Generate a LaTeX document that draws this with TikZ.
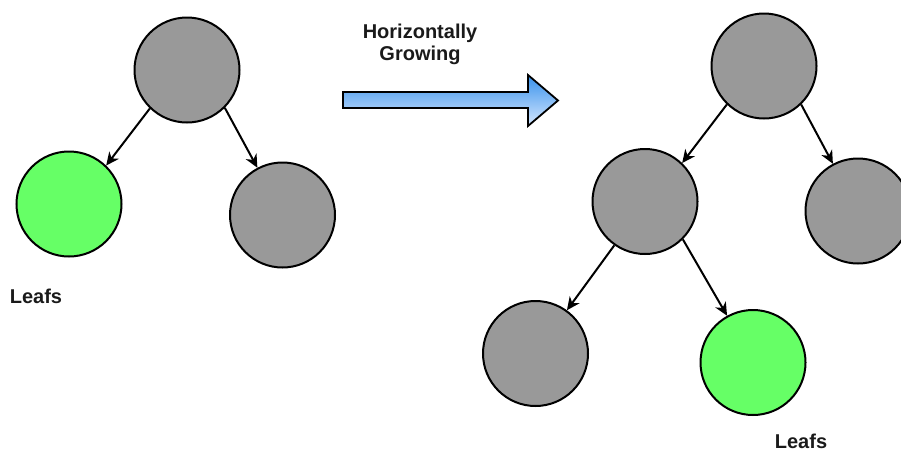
\documentclass[tikz,border=0pt]{standalone}
\usepackage{fontspec}
\setmainfont{Liberation Sans}
\usetikzlibrary{arrows.meta}
\definecolor{nodegray}{HTML}{999999}
\definecolor{leafgreen}{HTML}{66FF66}
\definecolor{arrowtop}{RGB}{55,145,235}
\definecolor{arrowbot}{RGB}{215,232,255}
\definecolor{txt}{HTML}{1A1A1A}
\tikzset{
  treenode/.style={circle, draw=black, line width=2pt, minimum size=105pt, inner sep=0pt, fill=nodegray},
  leafnode/.style={treenode, fill=leafgreen},
  edge/.style={draw=black, line width=2pt, -{Stealth[length=13pt,width=12pt,inset=4pt]}},
  lbl/.style={font=\bfseries\fontsize{20}{22}\selectfont, text=txt, align=center, inner sep=0pt},
}
\begin{document}
\begin{tikzpicture}[x=1pt,y=-1pt]
\useasboundingbox (0,0) rectangle (901,453);
% left tree
\node[treenode] (lr) at (187,70) {};
\node[leafnode] (ll) at (69,204) {};
\node[treenode] (lrt) at (282.5,215) {};
\draw[edge] (lr.226) -- (ll.46);
\draw[edge] (lr.-45) -- (lrt.118);
\node[lbl] (leafl) at (36,296) {Leafs};
% growth arrow
\shade[top color=arrowtop, bottom color=arrowbot, draw=black, line width=1.8pt, line join=miter]
  (343,92) -- (528,92) -- (528,75) -- (558,100.5) -- (528,126) -- (528,108) -- (343,108) -- cycle;
\node[lbl] (grow) at (420,44.5) {Horizontally\\Growing};
% right tree
\node[treenode] (rr) at (764,66) {};
\node[treenode] (rm) at (645,201.5) {};
\node[treenode] (rrt) at (858,211) {};
\node[treenode] (rbl) at (535.5,353.5) {};
\node[leafnode] (rg) at (753,362.5) {};
\draw[edge] (rr.226) -- (rm.46);
\draw[edge] (rr.-46.7) -- (rrt.118.6);
\draw[edge] (rm.235.5) -- (rbl.54.5);
\draw[edge] (rm.-45.4) -- (rg.119);
\node[lbl] (leafr) at (801,441.5) {Leafs};
\end{tikzpicture}
\end{document}
